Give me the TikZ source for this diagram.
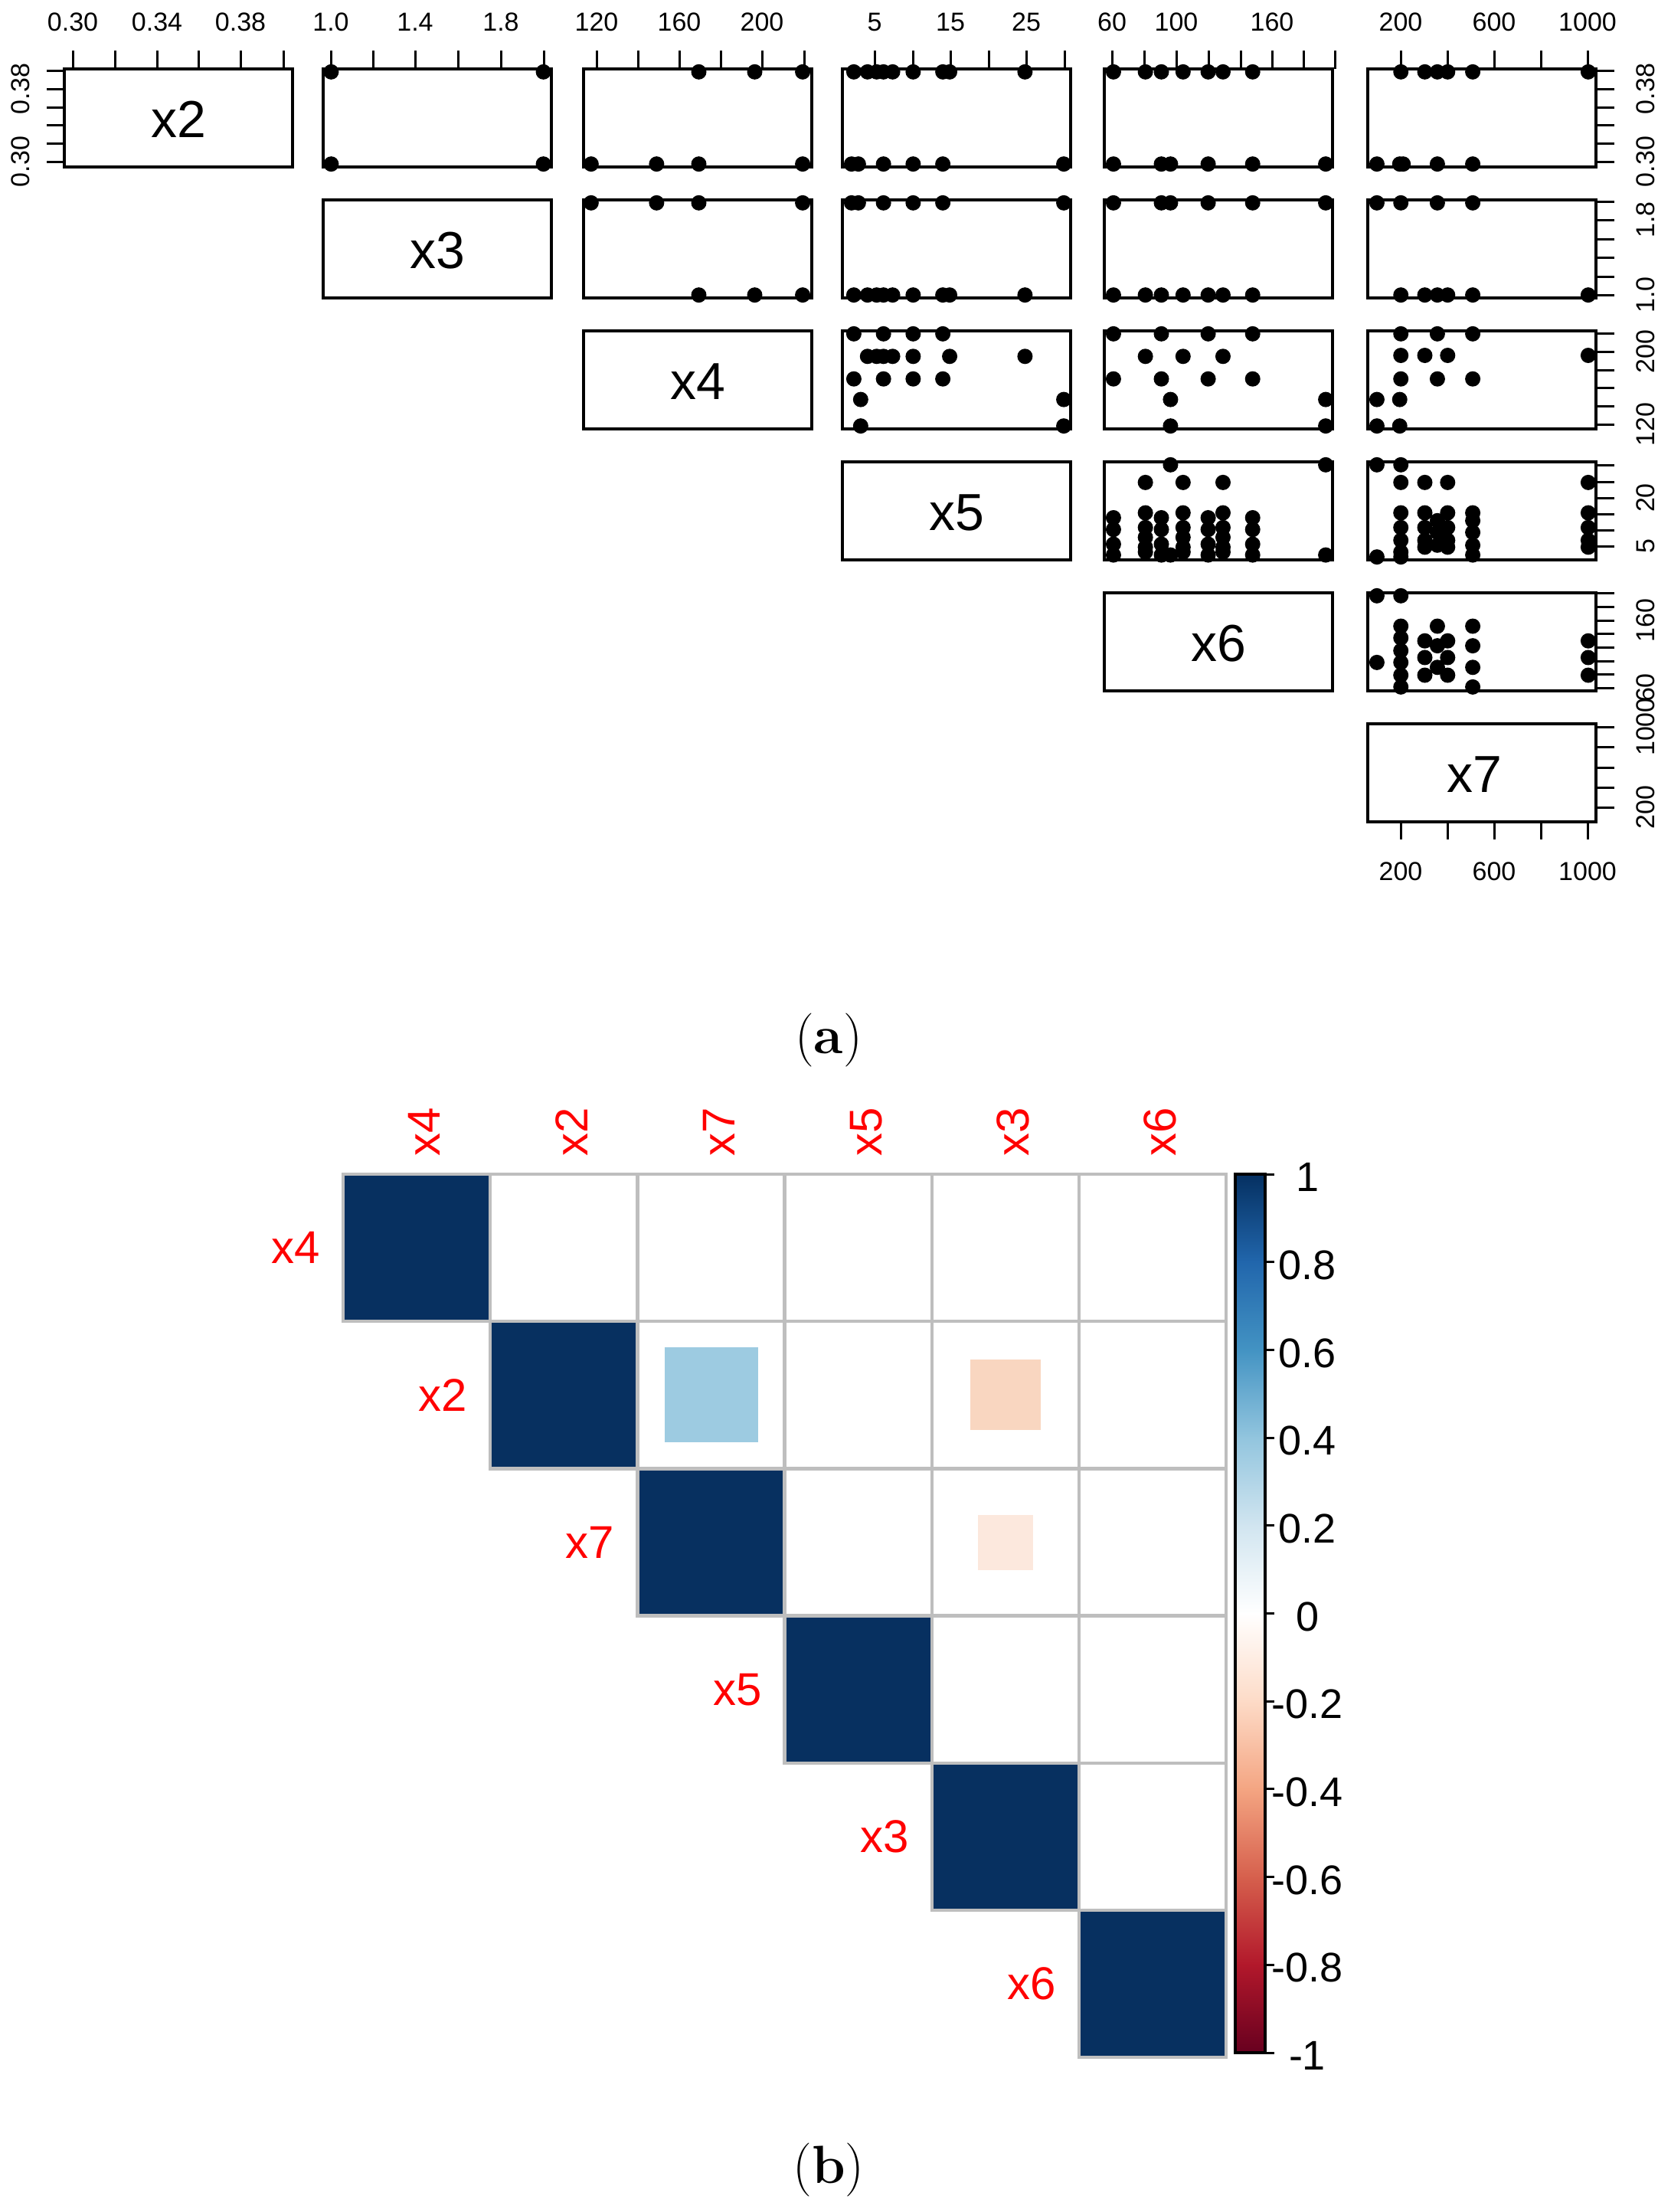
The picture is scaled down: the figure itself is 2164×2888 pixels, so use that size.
\documentclass[tikz,border=0pt]{standalone}
\usepackage{fontspec}
\newfontfamily\ars{Liberation Sans}
\begin{document}
\begin{tikzpicture}[x=1pt,y=-1pt,
  frame/.style={line width=3.5},
  tk/.style={line width=3},
  tl/.style={font=\ars\fontsize{34}{40}\selectfont,inner sep=0},
  pl/.style={font=\ars\fontsize{68}{80}\selectfont,inner sep=0},
  rl/.style={font=\ars\fontsize{60}{70}\selectfont,text=red,inner sep=0},
  cl/.style={font=\ars\fontsize{54}{64}\selectfont,inner sep=0},
  captxt/.style={font=\fontsize{70}{80}\selectfont,inner sep=0},
  grd/.style={draw={rgb,255:red,190;green,190;blue,190},line width=4.5}]
\definecolor{dk}{RGB}{7,48,96}
\definecolor{lb}{RGB}{157,203,225}
\definecolor{pk1}{RGB}{249,214,192}
\definecolor{pk2}{RGB}{252,232,221}
\useasboundingbox (0,0) rectangle (2164,2888);
\fill[white] (0,0) rectangle (2164,2888);
\newcommand\dts[3]{\foreach \u/\v in {#3} \fill ({#1+\u*298},{#2+\v*128}) circle[radius=10];}
% ---------- panels ----------
\foreach \c/\r in {84/90,422/90,762/90,1100/90,1442/90,1786/90,
  422/261,762/261,1100/261,1442/261,1786/261,
  762/432,1100/432,1442/432,1786/432,
  1100/603,1442/603,1786/603,
  1442/774,1786/774,1786/945}
  \draw[frame] (\c,\r) rectangle ++(298,128);
\node[pl] (l2) at (233,156) {x2};
\node[pl] (l3) at (571,327) {x3};
\node[pl] (l4) at (911,498) {x4};
\node[pl] (l5) at (1249,669) {x5};
\node[pl] (l6) at (1591,840) {x6};
\node[pl] (l7) at (1925,1011) {x7};
% ---------- top axes ----------
\foreach \x in {95,150,205,259,314,370,432,487,542,598,654,710,779,833,887,941,995,1050,
  1142,1192,1241,1291,1340,1390,1452,1494,1536,1578,1620,1661,1702,1743,1829,1890,1951,2012,2073}
  \draw[tk] (\x,90) -- (\x,66);
\foreach \x/\t in {95/0.30,205/0.34,314/0.38,432/1.0,542/1.4,654/1.8,779/120,887/160,995/200,
  1142/5,1241/15,1340/25,1452/60,1536/100,1661/160,1829/200,1951/600,2073/1000}
  \node[tl] (t\x) at (\x,29) {\t};
% left axis row 1
\foreach \y in {211,187,163,140,116,92} \draw[tk] (84,\y) -- (61,\y);
\node[tl,rotate=90] (la1) at (27,211) {0.30};
\node[tl,rotate=90] (la2) at (27,116) {0.38};
% right axes
\foreach \y in {211,187,163,140,116,92, 385,361,336,312,287,263, 554,530,506,483,459,435,
  713,692,671,650,629,607, 898,880,863,845,827,810,792,774, 1054,1028,1002,975,949}
  \draw[tk] (2085,\y) -- (2108,\y);
\foreach \y/\t in {211/0.30,116/0.38,385/1.0,287/1.8,554/120,459/200,713/5,650/20,898/60,810/160,1054/200,949/1000}
  \node[tl,rotate=90] (r\y) at (2149,\y) {\t};
% bottom axis
\foreach \x in {1829,1890,1951,2012,2073} \draw[tk] (\x,1073) -- (\x,1096);
\foreach \x/\t in {1829/200,1951/600,2073/1000} \node[tl] (b\x) at (\x,1138) {\t};
% ---------- points ----------
\dts{422}{90}{0.035/0.03,0.965/0.03,0.035/0.97,0.965/0.97}
\dts{762}{90}{0.505/0.03,0.75/0.03,0.96/0.03,0.033/0.97,0.32/0.97,0.505/0.97,0.96/0.97}
\dts{762}{261}{0.505/0.97,0.75/0.97,0.96/0.97,0.033/0.03,0.32/0.03,0.505/0.03,0.96/0.03}
\dts{1100}{90}{0.05/0.03,0.11/0.03,0.15/0.03,0.18/0.03,0.22/0.03,0.31/0.03,0.44/0.03,0.47/0.03,0.80/0.03,
  0.04/0.97,0.07/0.97,0.18/0.97,0.31/0.97,0.44/0.97,0.97/0.97}
\dts{1100}{261}{0.05/0.97,0.11/0.97,0.15/0.97,0.18/0.97,0.22/0.97,0.31/0.97,0.44/0.97,0.47/0.97,0.80/0.97,
  0.04/0.03,0.07/0.03,0.18/0.03,0.31/0.03,0.44/0.03,0.97/0.03}
\dts{1100}{432}{0.05/0.03,0.18/0.03,0.31/0.03,0.44/0.03,0.11/0.26,0.15/0.26,0.18/0.26,0.22/0.26,0.31/0.26,0.47/0.26,0.80/0.26,
  0.05/0.49,0.18/0.49,0.31/0.49,0.44/0.49,0.08/0.70,0.97/0.70,0.08/0.97,0.97/0.97}
\dts{1442}{90}{0.04/0.03,0.18/0.03,0.25/0.03,0.345/0.03,0.455/0.03,0.52/0.03,0.65/0.03,
  0.04/0.97,0.25/0.97,0.29/0.97,0.455/0.97,0.65/0.97,0.97/0.97}
\dts{1442}{261}{0.04/0.97,0.18/0.97,0.25/0.97,0.345/0.97,0.455/0.97,0.52/0.97,0.65/0.97,
  0.04/0.03,0.25/0.03,0.29/0.03,0.455/0.03,0.65/0.03,0.97/0.03}
\dts{1442}{432}{0.04/0.03,0.25/0.03,0.455/0.03,0.65/0.03,0.18/0.26,0.345/0.26,0.52/0.26,
  0.04/0.49,0.25/0.49,0.455/0.49,0.65/0.49,0.29/0.70,0.97/0.70,0.29/0.97,0.97/0.97}
\dts{1442}{603}{0.29/0.03,0.97/0.03,0.18/0.21,0.345/0.21,0.52/0.21,
  0.04/0.57,0.04/0.69,0.04/0.84,0.04/0.95,
  0.18/0.52,0.18/0.67,0.18/0.77,0.18/0.87,0.18/0.92,
  0.25/0.57,0.25/0.69,0.25/0.84,0.25/0.95,0.29/0.95,
  0.345/0.52,0.345/0.67,0.345/0.77,0.345/0.87,0.345/0.92,
  0.455/0.57,0.455/0.69,0.455/0.84,0.455/0.95,
  0.52/0.52,0.52/0.67,0.52/0.77,0.52/0.87,0.52/0.92,
  0.65/0.57,0.65/0.69,0.65/0.84,0.65/0.95,0.97/0.95}
\dts{1786}{90}{0.145/0.03,0.25/0.03,0.305/0.03,0.35/0.03,0.46/0.03,0.966/0.03,
  0.04/0.97,0.14/0.97,0.155/0.97,0.305/0.97,0.46/0.97}
\dts{1786}{261}{0.04/0.03,0.145/0.03,0.305/0.03,0.46/0.03,
  0.145/0.97,0.25/0.97,0.305/0.97,0.35/0.97,0.46/0.97,0.966/0.97}
\dts{1786}{432}{0.145/0.03,0.305/0.03,0.46/0.03,0.145/0.25,0.25/0.25,0.35/0.25,0.966/0.25,
  0.145/0.49,0.305/0.49,0.46/0.49,0.04/0.70,0.14/0.70,0.04/0.97,0.14/0.97}
\dts{1786}{603}{0.04/0.03,0.145/0.03,0.145/0.21,0.25/0.21,0.35/0.21,0.966/0.21,
  0.145/0.52,0.25/0.52,0.35/0.52,0.46/0.52,0.966/0.52,
  0.145/0.67,0.145/0.8,0.145/0.92,0.25/0.67,0.25/0.8,0.25/0.87,
  0.305/0.6,0.305/0.72,0.305/0.85,0.35/0.67,0.35/0.8,0.35/0.87,
  0.46/0.6,0.46/0.72,0.46/0.85,0.46/0.95,0.966/0.67,0.966/0.8,0.966/0.87,
  0.04/0.97,0.145/0.97}
\dts{1786}{774}{0.04/0.03,0.04/0.71,0.145/0.03,0.145/0.34,0.145/0.46,0.145/0.59,0.145/0.71,0.145/0.84,0.145/0.96,
  0.25/0.49,0.25/0.66,0.25/0.84,0.305/0.34,0.305/0.54,0.305/0.76,
  0.35/0.49,0.35/0.66,0.35/0.84,0.46/0.34,0.46/0.54,0.46/0.76,0.46/0.96,
  0.966/0.49,0.966/0.66,0.966/0.84}
\node[captxt] (capa) at (1082,1358) {(\textbf{a})};
% ---------- correlation plot ----------
\def\cs{192.2}
\foreach \i in {0,...,5} \foreach \j in {\i,...,5}
  \draw[grd] ({448+\j*\cs},{1533+\i*\cs}) rectangle ++(\cs,\cs);
\foreach \i in {0,...,5}
  \filldraw[grd,fill=dk] ({448+\i*\cs},{1533+\i*\cs}) rectangle ++(\cs,\cs);
\fill[lb] ({448+2.5*\cs-61},{1533+1.5*\cs-62}) rectangle ++(122,124);
\fill[pk1] ({448+4.5*\cs-46},{1533+1.5*\cs-46}) rectangle ++(92,92);
\fill[pk2] ({448+4.5*\cs-36},{1533+2.5*\cs-36}) rectangle ++(72,72);
\foreach \t [count=\k from 0] in {x4,x2,x7,x5,x3,x6}{
  \node[rl,anchor=east] (row\t) at ({448+\k*\cs-30},{1533+(\k+0.5)*\cs}) {\t};
  \node[rl,rotate=90,anchor=west] (col\t) at ({448+(\k+0.5)*\cs+10},1510) {\t};
}
% colour bar
\def\cbt{1533} \def\cbh{114.7}
\foreach \a/\b [count=\k from 0] in {
  {rgb,255:red,5;green,48;blue,97}/{rgb,255:red,33;green,102;blue,172},
  {rgb,255:red,33;green,102;blue,172}/{rgb,255:red,67;green,147;blue,195},
  {rgb,255:red,67;green,147;blue,195}/{rgb,255:red,146;green,197;blue,222},
  {rgb,255:red,146;green,197;blue,222}/{rgb,255:red,209;green,229;blue,240},
  {rgb,255:red,209;green,229;blue,240}/{rgb,255:red,255;green,255;blue,255},
  {rgb,255:red,255;green,255;blue,255}/{rgb,255:red,253;green,219;blue,199},
  {rgb,255:red,253;green,219;blue,199}/{rgb,255:red,244;green,165;blue,130},
  {rgb,255:red,244;green,165;blue,130}/{rgb,255:red,214;green,96;blue,77},
  {rgb,255:red,214;green,96;blue,77}/{rgb,255:red,178;green,24;blue,43},
  {rgb,255:red,178;green,24;blue,43}/{rgb,255:red,103;green,0;blue,31}}
  \shade[top color=\a,bottom color=\b] (1613,{\cbt+\k*\cbh-0.5}) rectangle (1652,{\cbt+(\k+1)*\cbh+0.5});
\draw[line width=4.5] (1613,\cbt) rectangle (1652,{\cbt+10*\cbh});
\foreach \t [count=\k from 0] in {1,0.8,0.6,0.4,0.2,0,-0.2,-0.4,-0.6,-0.8,-1}{
  \draw[tk] (1652,{\cbt+\k*\cbh}) -- (1664,{\cbt+\k*\cbh});
  \node[cl] (cb\k) at (1707,{\cbt+\k*\cbh+4}) {\t};
}
\node[captxt] (capb) at (1082,2833) {(\textbf{b})};
\end{tikzpicture}
\end{document}
